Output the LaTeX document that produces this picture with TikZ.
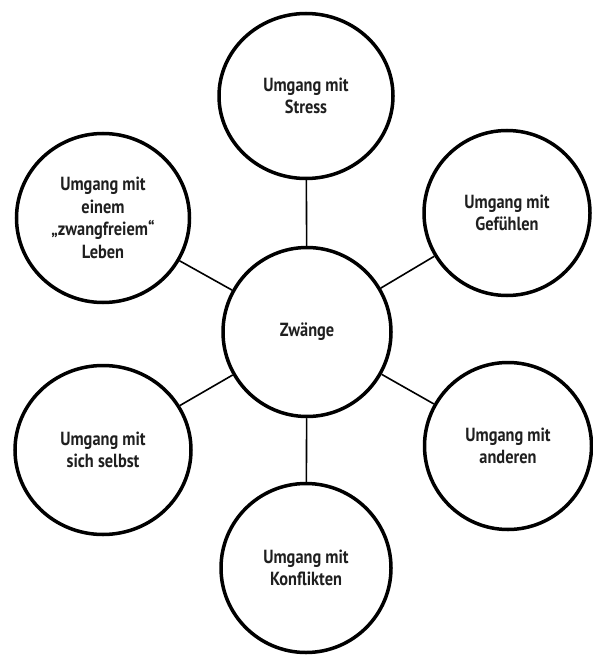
\documentclass[tikz,border=0pt]{standalone}
\usepackage{fontspec}
\setmainfont{PT Sans}[FakeStretch=0.86]
\usepackage{tikz}
\usetikzlibrary{shapes}
\tikzstyle{bubble} = [ellipse, draw, line width=3.5pt, inner sep=0pt,
    minimum width=170pt, minimum height=169pt, align=center,
    text=black!88, font=\fontsize{19}{22.5}\selectfont\bfseries]
\tikzstyle{line} = [draw, line width=1.6pt]

\begin{document}
\begin{tikzpicture}[x=1pt, y=-1pt]
    \useasboundingbox (0,0) rectangle (592,655);
    % Nodes
    \node [bubble, minimum width=168pt] (zwaenge) at (307,332) {Zwänge};
    \node [bubble, minimum width=174pt, minimum height=165pt] (stress) at (306,96) {Umgang mit\\Stress};
    \node [bubble, minimum width=166pt, minimum height=165pt] (gefuehle) at (507,213) {Umgang mit\\Gefühlen};
    \node [bubble, minimum width=167pt, minimum height=167pt] (andere) at (508,446) {Umgang mit\\anderen};
    \node [bubble] (konflikte) at (306,568) {Umgang mit\\Konflikten};
    \node [bubble, minimum width=176pt] (selbst) at (103,450) {Umgang mit\\sich selbst};
    \node [bubble, minimum width=173pt] (leben) at (103,218) {Umgang mit\\einem\\„zwangfreiem“\\Leben};
    % Paths
    \path [line] (zwaenge) -- (stress);
    \path [line] (zwaenge) -- (gefuehle);
    \path [line] (zwaenge) -- (andere);
    \path [line] (zwaenge) -- (konflikte);
    \path [line] (zwaenge) -- (selbst);
    \path [line] (zwaenge) -- (leben);
\end{tikzpicture}
\end{document}
